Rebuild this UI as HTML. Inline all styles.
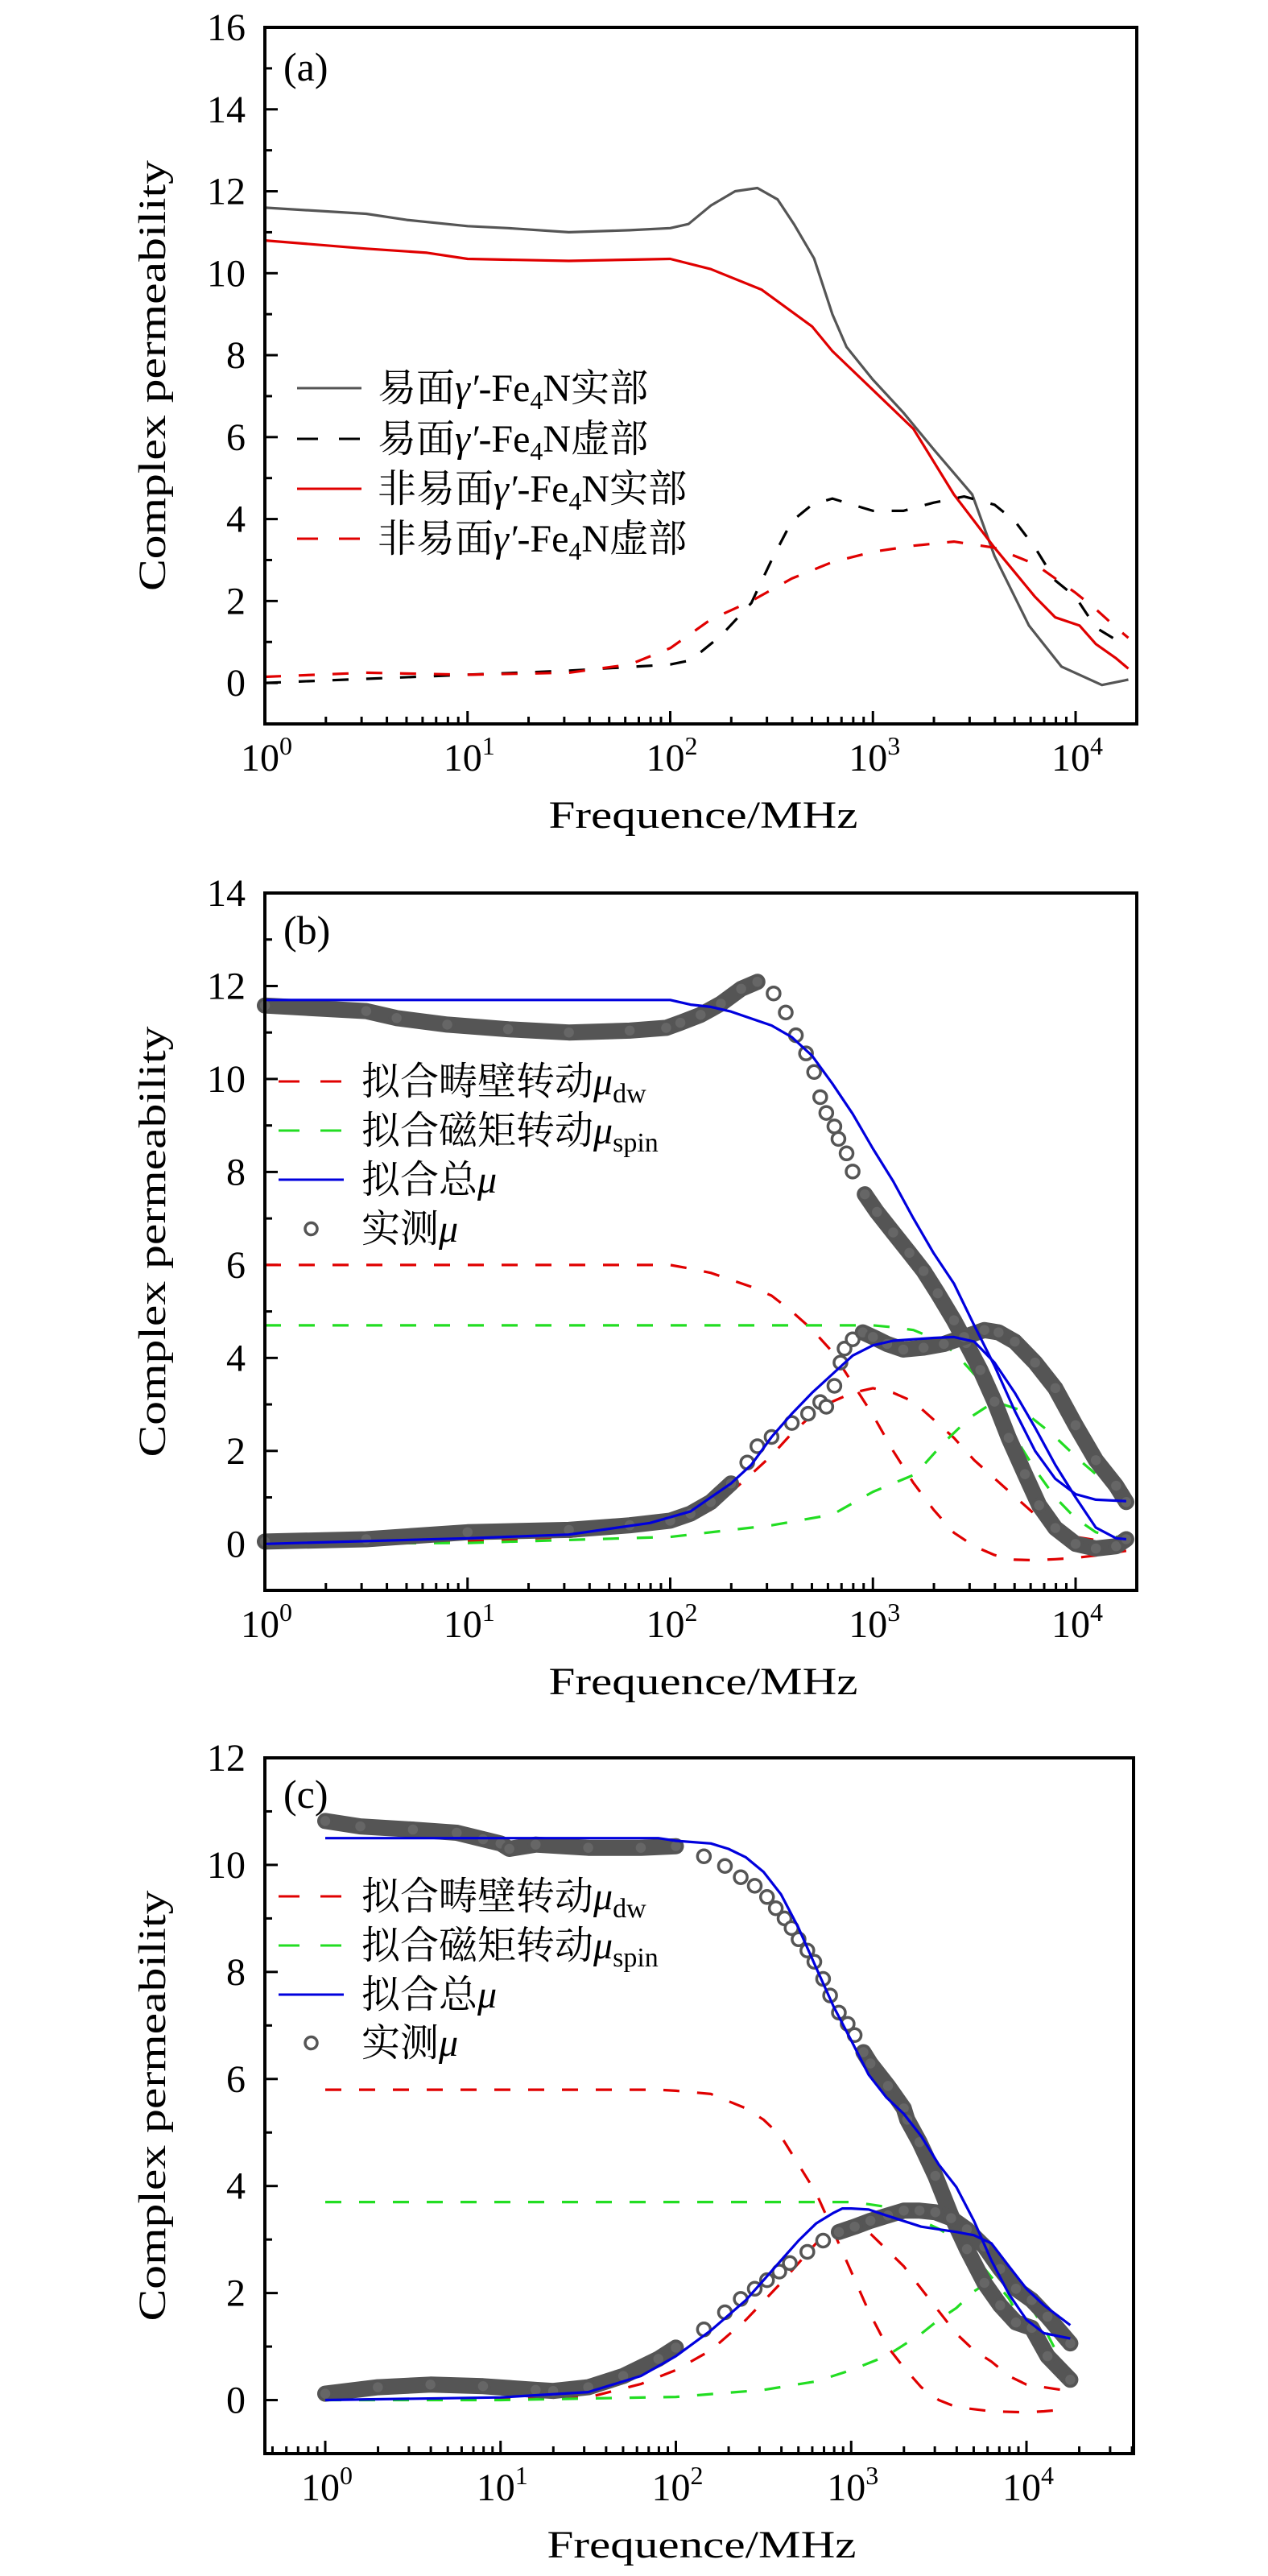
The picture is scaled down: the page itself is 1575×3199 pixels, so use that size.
<!DOCTYPE html>
<html><head><meta charset="utf-8">
<style>
html,body{margin:0;padding:0;background:#fff;}
svg{display:block;}
text{font-family:"Liberation Serif","Noto Serif CJK SC","Noto Sans CJK SC",serif;fill:#000;}
</style></head>
<body>
<svg id="fig" width="1575" height="3199" viewBox="0 0 1575 3199" xmlns="http://www.w3.org/2000/svg"></svg>
<script>
// ---------- Panel (a) data (x = log10 frequency in MHz) ----------
const aGrayX = [0,0.5,0.7,1.0,1.2,1.5,1.8,2.0,2.09,2.2,2.32,2.43,2.53,2.61,2.71,2.8,2.87,3.0,3.15,3.3,3.49,3.6,3.77,3.93,4.13,4.26];
const aGrayY = [11.6,11.45,11.3,11.15,11.1,11.0,11.05,11.1,11.2,11.65,12.0,12.08,11.8,11.2,10.36,9.0,8.2,7.4,6.6,5.7,4.6,3.1,1.4,0.4,-0.05,0.08];
const aRedX = [0,0.5,0.8,1.0,1.5,2.0,2.2,2.45,2.7,2.8,3.0,3.2,3.3,3.4,3.5,3.6,3.7,3.8,3.9,4.02,4.1,4.2,4.26];
const aRedY = [10.8,10.6,10.5,10.35,10.3,10.35,10.1,9.6,8.7,8.1,7.15,6.2,5.4,4.6,3.95,3.3,2.7,2.1,1.6,1.4,0.95,0.6,0.35];
const aBlackDX = [0,1.0,1.5,2.0,2.1,2.25,2.4,2.5,2.6,2.7,2.8,2.9,3.0,3.15,3.3,3.45,3.6,3.7,3.8,3.9,4.0,4.1,4.2];
const aBlackDY = [0.0,0.2,0.3,0.45,0.55,1.15,1.95,3.0,3.95,4.35,4.5,4.35,4.2,4.2,4.4,4.55,4.35,3.95,3.3,2.5,2.1,1.35,1.05];
const aRedDX = [0,0.5,1.0,1.5,1.8,2.0,2.2,2.4,2.6,2.8,3.0,3.2,3.4,3.6,3.8,4.0,4.1,4.2,4.26];
const aRedDY = [0.15,0.25,0.2,0.25,0.45,0.85,1.55,2.0,2.55,2.95,3.2,3.35,3.45,3.3,2.9,2.2,1.8,1.35,1.1];

// ---------- Panel (b) data ----------
const bMeasRealX = [0,0.5,0.65,0.9,1.2,1.5,1.8,1.98,2.05,2.15,2.25,2.35,2.43,2.51,2.57,2.62,2.67,2.71,2.74,2.77,2.81,2.83,2.87,2.9,2.96,3.02,3.1,3.18,3.25,3.32,3.4,3.46,3.53,3.6,3.67,3.75,3.82,3.9,4.0,4.1,4.2,4.25];
const bMeasRealY = [11.58,11.46,11.31,11.17,11.07,11.0,11.04,11.1,11.21,11.38,11.62,11.94,12.09,11.84,11.43,10.94,10.55,10.15,9.61,9.27,8.98,8.71,8.4,8.01,7.52,7.14,6.7,6.26,5.87,5.39,4.81,4.32,3.74,3.06,2.28,1.5,0.83,0.34,0.0,-0.1,-0.05,0.1];
const bMeasImagX = [0,0.5,1.0,1.5,1.8,2.0,2.1,2.2,2.3,2.38,2.43,2.5,2.6,2.68,2.74,2.77,2.81,2.84,2.86,2.9,2.95,3.0,3.07,3.15,3.25,3.35,3.45,3.55,3.62,3.7,3.8,3.9,4.0,4.1,4.2,4.25];
const bMeasImagY = [0.05,0.1,0.25,0.3,0.4,0.5,0.65,0.9,1.3,1.75,2.1,2.3,2.6,2.8,3.05,2.95,3.4,3.9,4.2,4.4,4.55,4.45,4.3,4.18,4.22,4.3,4.45,4.6,4.55,4.35,3.9,3.35,2.55,1.8,1.25,0.9];
const bFitRealX = [0,1.0,2.0,2.1,2.2,2.3,2.4,2.5,2.6,2.7,2.8,2.9,3.0,3.1,3.2,3.3,3.4,3.5,3.6,3.7,3.8,3.9,4.0,4.1,4.25];
const bFitRealY = [11.7,11.7,11.7,11.6,11.55,11.45,11.3,11.15,10.9,10.5,9.9,9.25,8.5,7.8,7.0,6.25,5.6,4.7,3.83,2.86,2.0,1.4,1.07,0.95,0.92];
const bFitImagX = [0,1.0,1.5,1.9,2.1,2.3,2.4,2.5,2.6,2.7,2.8,2.9,3.0,3.1,3.2,3.3,3.4,3.5,3.6,3.7,3.8,3.9,4.0,4.1,4.2,4.25];
const bFitImagY = [0.0,0.12,0.2,0.45,0.7,1.3,1.7,2.3,2.8,3.25,3.65,4.05,4.27,4.37,4.4,4.43,4.45,4.35,3.9,3.25,2.5,1.7,1.0,0.35,0.12,0.1];
const bDwRealX = [0,1.0,2.0,2.1,2.2,2.3,2.4,2.5,2.6,2.7,2.8,2.9,3.0,3.1,3.2,3.3,3.4,3.5,3.6,3.7,3.8,3.9,4.0,4.1,4.25];
const bDwRealY = [6.0,6.0,6.0,5.92,5.83,5.68,5.53,5.34,5.0,4.61,4.13,3.45,2.77,2.0,1.31,0.73,0.24,-0.05,-0.24,-0.34,-0.35,-0.33,-0.3,-0.25,-0.15];
const bDwImagX = [0,1.0,1.5,2.0,2.2,2.4,2.5,2.6,2.7,2.8,2.9,3.0,3.1,3.2,3.3,3.4,3.5,3.6,3.7,3.8,3.9,4.0,4.1,4.25];
const bDwImagY = [0,0.06,0.15,0.4,0.73,1.5,1.9,2.38,2.77,3.06,3.25,3.35,3.25,3.06,2.67,2.28,1.8,1.41,1.02,0.63,0.34,0.15,0.08,0.05];
const bSpinRealX = [0,1.0,2.0,3.0,3.1,3.2,3.3,3.4,3.5,3.6,3.7,3.8,3.9,4.0,4.1,4.25];
const bSpinRealY = [4.7,4.7,4.7,4.7,4.66,4.6,4.42,4.13,3.65,3.0,2.3,1.6,1.0,0.55,0.25,0.1];
const bSpinImagX = [0,1.0,2.0,2.5,2.8,3.0,3.21,3.35,3.48,3.6,3.74,3.88,4.02,4.15,4.25];
const bSpinImagY = [0,0.02,0.15,0.4,0.63,1.12,1.5,2.18,2.72,3.06,2.86,2.38,1.8,1.31,0.9];

// ---------- Panel (c) data ----------
const cMeasRealX = [0,0.2,0.5,0.75,0.9,1.0,1.05,1.2,1.5,1.8,2.0,2.16,2.28,2.37,2.45,2.52,2.57,2.62,2.66,2.7,2.75,2.79,2.84,2.88,2.93,2.98,3.02,3.07,3.11,3.21,3.3,3.32,3.39,3.48,3.57,3.66,3.76,3.85,3.94,4.03,4.12,4.25];
const cMeasRealY = [10.82,10.72,10.66,10.6,10.48,10.4,10.3,10.38,10.32,10.32,10.35,10.16,9.98,9.77,9.61,9.4,9.19,9.0,8.82,8.61,8.4,8.19,7.87,7.56,7.24,7.03,6.82,6.5,6.29,5.87,5.45,5.24,4.82,4.19,3.45,2.82,2.19,1.77,1.45,1.35,0.82,0.38];
const cMeasImagX = [0,0.3,0.6,0.9,1.2,1.3,1.5,1.7,1.9,2.0,2.16,2.28,2.37,2.45,2.52,2.59,2.65,2.75,2.84,2.93,3.02,3.11,3.21,3.3,3.39,3.48,3.57,3.66,3.76,3.85,3.94,4.03,4.12,4.25];
const cMeasImagY = [0.12,0.24,0.29,0.26,0.19,0.17,0.24,0.45,0.77,0.98,1.32,1.64,1.89,2.08,2.24,2.4,2.56,2.77,2.98,3.14,3.24,3.35,3.45,3.54,3.54,3.51,3.4,3.19,2.87,2.45,2.08,1.87,1.56,1.06];
const cFitRealX = [0,1.0,1.9,2.0,2.2,2.3,2.4,2.5,2.6,2.7,2.8,2.9,3.0,3.1,3.2,3.3,3.4,3.5,3.6,3.7,3.8,3.9,4.0,4.1,4.25];
const cFitRealY = [10.5,10.5,10.5,10.45,10.4,10.3,10.14,9.87,9.45,8.82,8.08,7.35,6.72,6.08,5.66,5.35,4.93,4.4,3.98,3.35,2.61,1.98,1.5,1.25,1.15];
const cFitImagX = [0,1.0,1.5,1.8,2.0,2.2,2.4,2.5,2.6,2.7,2.8,2.9,2.95,3.0,3.1,3.2,3.4,3.6,3.7,3.8,3.9,4.0,4.1,4.25];
const cFitImagY = [0.0,0.05,0.15,0.45,0.82,1.3,1.87,2.24,2.61,2.98,3.3,3.5,3.58,3.58,3.56,3.45,3.24,3.14,3.08,2.93,2.5,2.08,1.77,1.4];
const cDwRealX = [0,1.0,1.9,2.0,2.2,2.4,2.5,2.6,2.7,2.8,2.9,3.0,3.1,3.2,3.3,3.4,3.5,3.6,3.8,4.0,4.1,4.2];
const cDwRealY = [5.8,5.8,5.8,5.78,5.72,5.45,5.24,4.93,4.4,3.87,3.14,2.4,1.66,1.03,0.61,0.24,0.0,-0.13,-0.21,-0.23,-0.21,-0.18];
const cDwImagX = [0,1.5,1.8,2.0,2.2,2.4,2.6,2.8,2.9,3.0,3.1,3.2,3.3,3.4,3.5,3.6,3.7,3.8,3.9,4.0,4.2];
const cDwImagY = [0,0.05,0.3,0.56,0.93,1.5,2.19,2.93,3.19,3.3,3.14,2.82,2.5,2.08,1.66,1.24,0.93,0.72,0.45,0.29,0.19];
const cSpinRealX = [0,1.0,2.0,3.0,3.1,3.2,3.3,3.4,3.5,3.6,3.7,3.8,3.9,4.0,4.1,4.2,4.25];
const cSpinRealY = [3.7,3.7,3.7,3.7,3.66,3.61,3.5,3.35,3.2,3.0,2.7,2.3,1.9,1.3,0.8,0.45,0.35];
const cSpinImagX = [0,1.0,2.0,2.5,2.8,3.0,3.2,3.4,3.5,3.6,3.7,3.8,3.9,4.0,4.1,4.2,4.25];
const cSpinImagY = [0,0.0,0.06,0.19,0.35,0.56,0.82,1.24,1.5,1.72,2.03,2.24,2.21,1.87,1.35,0.72,0.5];

// ---------- tick labels ----------
const aYTicks = [0,2,4,6,8,10,12,14,16];
const bYTicks = [0,2,4,6,8,10,12,14];
const cYTicks = [0,2,4,6,8,10,12];
const xDecades = [0,1,2,3,4];

const NS = "http://www.w3.org/2000/svg";
const svg = document.getElementById('fig');
function el(tag, attrs, parent){
  const e = document.createElementNS(NS, tag);
  for (const k in attrs) e.setAttribute(k, attrs[k]);
  (parent||svg).appendChild(e);
  return e;
}
const DASH = "20,22";

function makePanel(cfg){
  const g = el('g', {});
  
  
  const sx = v => cfg.x0px + (v - 0) * cfg.dec;
  const sy = v => cfg.bottom - (v - cfg.ymin) * (cfg.bottom - cfg.top) / (cfg.ymax - cfg.ymin);
  cfg.sx = sx; cfg.sy = sy; cfg.g = g;
  const tg = el('g', {stroke:'#000','stroke-width':3}, g);
  
  
  for (let v = Math.ceil(cfg.ymin); v <= cfg.ymax; v++){
    const major = v % 2 === 0;
    el('line', {x1:cfg.left, x2:cfg.left + (major?16:9), y1:sy(v), y2:sy(v)}, tg);
  }
  for (let d = -1; d <= 5; d++){
    for (let m = 1; m <= 9; m++){
      const lx = d + Math.log10(m);
      const px = sx(lx);
      if (px < cfg.left + 1 || px > cfg.right - 1) continue;
      el('line', {x1:px, x2:px, y1:cfg.bottom, y2:cfg.bottom - (m===1?16:9)}, tg);
    }
  }
  cfg.yticks.forEach(v => {
    const t = el('text', {x:305, y:sy(v)+16, 'text-anchor':'end', 'font-size':48}, g);
    t.textContent = v;
    
    
  });
  xDecades.forEach(d => {
    const t = el('text', {x:sx(d)+2, y:cfg.bottom+58, 'text-anchor':'middle', 'font-size':48}, g);
    const s1 = el('tspan', {}, t); s1.textContent = '10';
    const s2 = el('tspan', {dy:-20, 'font-size':32}, t); s2.textContent = d;
    
    
  });
  const yt = el('text', {x:0, y:0, 'text-anchor':'middle', 'font-size':48, textLength:535, lengthAdjust:'spacingAndGlyphs',
    transform:`translate(205,${(cfg.top+cfg.bottom)/2}) rotate(-90)`}, g);
  yt.textContent = 'Complex permeability';
  
  
  const xt = el('text', {x:(cfg.left+cfg.right)/2+3, y:cfg.bottom+129, 'text-anchor':'middle', 'font-size':48, textLength:384, lengthAdjust:'spacingAndGlyphs'}, g);
  xt.textContent = 'Frequence/MHz';
  
  
  const pl = el('text', {x:352, y:cfg.labelY, 'font-size':50}, g);
  pl.textContent = cfg.label;
  
  
  return cfg;
}
function frame(cfg){
  const r = el('rect', {x:cfg.left, y:cfg.top, width:cfg.right-cfg.left, height:cfg.bottom-cfg.top, fill:'none', stroke:'#000', 'stroke-width':4}, cfg.g);
  
  
}
function line(cfg, xs, ys, color, dashed, name){
  const d = xs.map((x,i) => (i?'L':'M') + cfg.sx(x).toFixed(1) + ',' + cfg.sy(ys[i]).toFixed(1)).join(' ');
  const p = el('path', {d:d, fill:'none', stroke:color, 'stroke-width':3.2, 'stroke-linejoin':'round'}, cfg.g);
  if (dashed) p.setAttribute('stroke-dasharray', DASH);
  
  
}
function measured(cfg, xs, ys, sparseFrom, sparseTo, name){
  const grp = el('g', {}, cfg.g);
  
  
  let seg = [];
  const flush = () => {
    if (seg.length > 1){
      const b = el('path', {d:seg.join(' '), fill:'none', stroke:'#555', 'stroke-width':20, 'stroke-linecap':'round', 'stroke-linejoin':'round'}, grp);
      
      
    }
    seg = [];
  };
  xs.forEach((x,i) => {
    if (x > sparseFrom && x < sparseTo){ flush(); return; }
    seg.push((seg.length?'L':'M') + cfg.sx(x).toFixed(1) + ',' + cfg.sy(ys[i]).toFixed(1));
  });
  flush();
  xs.forEach((x,i) => {
    const sparse = x > sparseFrom && x < sparseTo;
    const c = el('circle', {cx:cfg.sx(x), cy:cfg.sy(ys[i]), r:8, fill: sparse ? '#fff' : '#666', stroke:'#555', 'stroke-width':3.5}, grp);
    
    
  });
}
function legendEntry(cfg, y, color, dashed, marker, parts, x1, x2, tx){
  const lg = el('g', {}, cfg.g);
  
  
  if (marker){
    el('circle', {cx:(x1+x2)/2, cy:y, r:7.5, fill:'#fff', stroke:'#555', 'stroke-width':3.5}, lg);
  } else {
    const l = el('line', {x1:x1, x2:x2, y1:y, y2:y, stroke:color, 'stroke-width':3}, lg);
    if (dashed) l.setAttribute('stroke-dasharray', '26,26');
  }
  const t = el('text', {x:tx, y:y+16, 'font-size':48}, lg);
  parts.forEach(p => {
    const s = el('tspan', p.a || {}, t);
    s.textContent = p.t;
  });
}

// ---------------- Panel (a) ----------------
const A = makePanel({name:'panel-a', label:'(a)', labelY:100, left:329, right:1412, top:34, bottom:899, ymin:-1, ymax:16, x0px:329, dec:251.75, yticks:aYTicks});
line(A, aGrayX, aGrayY, '#555', false, 'easy-plane-real-line');
line(A, aRedX, aRedY, '#e00000', false, 'non-easy-plane-real-line');
line(A, aBlackDX, aBlackDY, '#000', true, 'easy-plane-imag-line');
line(A, aRedDX, aRedDY, '#e00000', true, 'non-easy-plane-imag-line');
frame(A);
const fe = (pre, suf) => [{t:pre},{t:'γ′',a:{'font-style':'italic'}},{t:'-Fe'},{t:'4',a:{'font-size':32,dy:10}},{t:'N',a:{dy:-10}},{t:suf}];
legendEntry(A, 482, '#555', false, false, fe('易面','实部'), 369, 449, 469);
legendEntry(A, 545, '#000', true, false, fe('易面','虚部'), 369, 449, 469);
legendEntry(A, 607, '#e00000', false, false, fe('非易面','实部'), 369, 449, 469);
legendEntry(A, 669, '#e00000', true, false, fe('非易面','虚部'), 369, 449, 469);

// ---------------- Panel (b) ----------------
const B = makePanel({name:'panel-b', label:'(b)', labelY:1172, left:329, right:1412, top:1109, bottom:1975, ymin:-1, ymax:14, x0px:329, dec:251.75, yticks:bYTicks});
line(B, bDwRealX, bDwRealY, '#e00000', true, 'fit-dw-real-line');
line(B, bDwImagX, bDwImagY, '#e00000', true, 'fit-dw-imag-line');
line(B, bSpinRealX, bSpinRealY, '#22dd22', true, 'fit-spin-real-line');
line(B, bSpinImagX, bSpinImagY, '#22dd22', true, 'fit-spin-imag-line');
measured(B, bMeasRealX, bMeasRealY, 2.46, 2.95, 'measured-real-points');
measured(B, bMeasImagX, bMeasImagY, 2.36, 2.92, 'measured-imag-points');
line(B, bFitRealX, bFitRealY, '#0000dd', false, 'fit-total-real-line');
line(B, bFitImagX, bFitImagY, '#0000dd', false, 'fit-total-imag-line');
frame(B);
const mu = (pre, sub) => [{t:pre},{t:'μ',a:{'font-style':'italic'}}].concat(sub ? [{t:sub,a:{'font-size':34,dy:10}}] : []);
legendEntry(B, 1343, '#e00000', true, false, mu('拟合畴壁转动','dw'), 346, 427, 449);
legendEntry(B, 1404, '#22dd22', true, false, mu('拟合磁矩转动','spin'), 346, 427, 449);
legendEntry(B, 1465, '#0000dd', false, false, mu('拟合总',''), 346, 427, 449);
legendEntry(B, 1526, '#555', false, true, mu('实测',''), 346, 427, 449);

// ---------------- Panel (c) ----------------
const C = makePanel({name:'panel-c', label:'(c)', labelY:2245, left:329, right:1408, top:2183, bottom:3047, ymin:-1, ymax:12, x0px:404, dec:217.75, yticks:cYTicks});
line(C, cDwRealX, cDwRealY, '#e00000', true, 'fit-dw-real-line');
line(C, cDwImagX, cDwImagY, '#e00000', true, 'fit-dw-imag-line');
line(C, cSpinRealX, cSpinRealY, '#22dd22', true, 'fit-spin-real-line');
line(C, cSpinImagX, cSpinImagY, '#22dd22', true, 'fit-spin-imag-line');
measured(C, cMeasRealX, cMeasRealY, 2.05, 3.05, 'measured-real-points');
measured(C, cMeasImagX, cMeasImagY, 2.05, 2.9, 'measured-imag-points');
line(C, cFitRealX, cFitRealY, '#0000dd', false, 'fit-total-real-line');
line(C, cFitImagX, cFitImagY, '#0000dd', false, 'fit-total-imag-line');
frame(C);
legendEntry(C, 2355, '#e00000', true, false, mu('拟合畴壁转动','dw'), 346, 427, 449);
legendEntry(C, 2416, '#22dd22', true, false, mu('拟合磁矩转动','spin'), 346, 427, 449);
legendEntry(C, 2477, '#0000dd', false, false, mu('拟合总',''), 346, 427, 449);
legendEntry(C, 2537, '#555', false, true, mu('实测',''), 346, 427, 449);
</script>
</body></html>
